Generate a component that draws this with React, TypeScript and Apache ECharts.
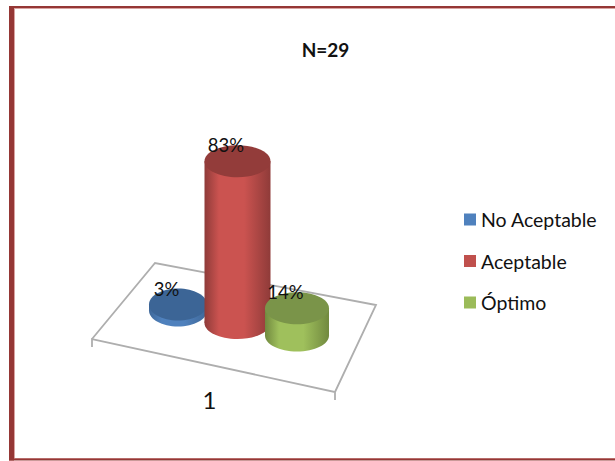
import React, { useEffect, useRef } from "react";
import * as echarts from "echarts";

const categories = ["1"];
const seriesNames = ["No Aceptable", "Aceptable", "Óptimo"];
const seriesValues = [3, 83, 14];
const sideColors = [
  ["#3f6899", "#4f81bd"],
  ["#8f3b39", "#cb5350"],
  ["#71893f", "#9fc05c"],
];
const topColors = ["#3c6596", "#933c3a", "#7a9449"];
const legendColors = ["#4f81bd", "#c0504d", "#9bbb59"];
const title = "N=29";

const FONT = "Lato";
const FRAME = "#953735";
const FRAME_EDGE = "#d9a3a1";
const FLOOR = "#aeaeae";
// Screen-space vectors of the chart's oblique floor projection.
const STEP_X = 59.5;
const STEP_Y = 12.6;
const DEPTH_X = 24;
const DEPTH_Y = -42.5;
const RADII_X = [29, 33, 32];
const RADIUS_Y = 16;

const cylinder = (i: number) => (_params: any, api: any) => {
  const value = api.value(1);
  const zero = api.coord([0, 0]);
  const peak = api.coord([0, value]);
  const cx = zero[0] + DEPTH_X + (i - 1) * STEP_X;
  const base = zero[1] + DEPTH_Y + (i - 1) * STEP_Y;
  const top = base - (zero[1] - peak[1]);
  const rx = RADII_X[i];
  const side = {
    type: "linear",
    x: 0,
    y: 0,
    x2: 1,
    y2: 0,
    colorStops: [
      { offset: 0, color: sideColors[i][0] },
      { offset: 0.22, color: sideColors[i][1] },
      { offset: 0.6, color: sideColors[i][1] },
      { offset: 1, color: sideColors[i][0] },
    ],
  };
  return {
    type: "group",
    children: [
      { type: "ellipse", shape: { cx, cy: base, rx, ry: RADIUS_Y }, style: { fill: side } },
      { type: "rect", shape: { x: cx - rx, y: top, width: rx * 2, height: base - top }, style: { fill: side } },
      { type: "ellipse", shape: { cx, cy: top, rx, ry: RADIUS_Y }, style: { fill: topColors[i] } },
      {
        type: "text",
        x: cx - 11.5,
        y: top - 16,
        style: {
          text: `${value}%`,
          font: `18.5px ${FONT}`,
          fill: "#111111",
          align: "center",
          verticalAlign: "middle",
        },
      },
    ],
  };
};

const frameBar = (x: number, y: number, width: number, height: number, fill: string) => ({
  type: "rect",
  silent: true,
  z: -10,
  shape: { x, y, width, height },
  style: { fill },
});

export default function App() {
  const ref = useRef<HTMLDivElement>(null);
  useEffect(() => {
    document.body.style.margin = "0";
    const chart = echarts.init(ref.current!, null, { renderer: "svg" });
    chart.setOption({
      animation: false,
      backgroundColor: "#ffffff",
      title: {
        text: title,
        left: 320.5,
        top: 34.5,
        textAlign: "center",
        textStyle: { fontFamily: FONT, fontSize: 19, fontWeight: "bold", color: "#111111" },
      },
      legend: {
        orient: "vertical",
        left: 459,
        top: 204.5,
        itemWidth: 12,
        itemHeight: 12,
        itemGap: 21.5,
        icon: "rect",
        data: seriesNames.map((name, i) => ({ name, itemStyle: { color: legendColors[i] } })),
        textStyle: { fontFamily: FONT, fontSize: 19.5, color: "#111111", padding: [0, 0, 0, 0] },
      },
      grid: { left: 92, top: 170.5, width: 243, height: 195 },
      xAxis: {
        type: "category",
        data: categories,
        axisLine: { show: false },
        axisTick: { show: false },
        axisLabel: { fontFamily: FONT, fontSize: 24, color: "#111111", margin: 22, padding: [0, 8, 0, 0] },
      },
      yAxis: { type: "value", min: 0, max: 100, show: false },
      series: seriesNames.map((name, i) => ({
        name,
        type: "custom",
        coordinateSystem: "cartesian2d",
        renderItem: cylinder(i),
        clip: false,
        itemStyle: { color: legendColors[i] },
        data: [[0, seriesValues[i]]],
      })),
      graphic: [
        frameBar(14, 8, 601, 1, FRAME_EDGE),
        frameBar(14, 458, 601, 1, FRAME_EDGE),
        frameBar(14, 8, 1, 451, FRAME_EDGE),
        frameBar(9, 6, 606, 2, FRAME),
        frameBar(9, 458.5, 606, 2, FRAME),
        frameBar(9, 6, 5, 454.5, FRAME),
        {
          type: "polyline",
          silent: true,
          z: -5,
          shape: { points: [[92, 347], [92, 339], [335, 392], [335, 400]] },
          style: { fill: "none", stroke: FLOOR, lineWidth: 1.8 },
        },
        {
          type: "polyline",
          silent: true,
          z: -5,
          shape: { points: [[92, 339], [155, 263], [376, 305], [335, 392]] },
          style: { fill: "none", stroke: FLOOR, lineWidth: 1.8 },
        },
      ],
    });
    return () => chart.dispose();
  }, []);
  return <div ref={ref} style={{ width: 615, height: 461 }} />;
}
